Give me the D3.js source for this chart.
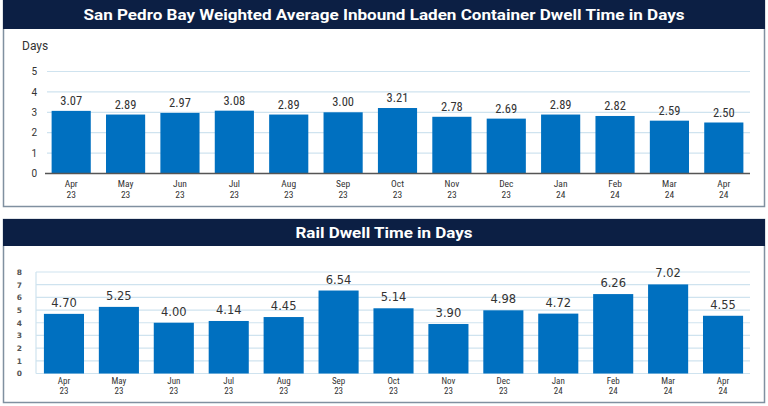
<!DOCTYPE html>
<html><head><meta charset="utf-8">
<script src="https://cdn.jsdelivr.net/npm/d3@7"></script>
<style>
html,body{margin:0;padding:0;background:#fff;}
svg{display:block;}
</style></head>
<body>
<svg id="c" width="768" height="406"></svg>
<script>
const months = ["Apr","May","Jun","Jul","Aug","Sep","Oct","Nov","Dec","Jan","Feb","Mar","Apr"];
const years  = ["23","23","23","23","23","23","23","23","23","24","24","24","24"];
const containerDwell = [3.07,2.89,2.97,3.08,2.89,3.00,3.21,2.78,2.69,2.89,2.82,2.59,2.50];
const railDwell = [4.70,5.25,4.00,4.14,4.45,6.54,5.14,3.90,4.98,4.72,6.26,7.02,4.55];
const topTicks = [0,1,2,3,4,5];
const bottomTicks = [0,1,2,3,4,5,6,7,8];
const title1 = "San Pedro Bay Weighted Average Inbound Laden Container Dwell Time in Days";
const title2 = "Rail Dwell Time in Days";

const NAVY = "#0c1f44", BAR = "#0070c0", GRID = "#cfe3ef", TXT = "#333";
const NARROW = "'Liberation Sans Narrow', 'Roboto Condensed', 'Arial Narrow', Roboto, sans-serif";
const svg = d3.select("#c");
const keys = months.map((m,i)=>i);

function panel(y0, y1, hb, title, tlen){
  svg.append("rect").attr("x",3.5).attr("y",y0+0.5).attr("width",761).attr("height",y1-y0)
    .attr("fill","#fff").attr("stroke","#8090a0").attr("stroke-width",1.5);
  svg.append("rect").attr("x",3).attr("y",y0).attr("width",762).attr("height",hb-y0).attr("fill",NAVY);
  svg.append("text").attr("x",384).attr("y",(y0+hb)/2+5.5).attr("text-anchor","middle")
    .attr("fill","#fff").attr("font-family","Roboto, Arial, sans-serif").attr("font-weight","bold")
    .attr("font-size",15.5).attr("textLength",tlen).attr("lengthAdjust","spacingAndGlyphs").text(title);
}

function twoLineTicks(xg, fontSize, y1, y2){
  xg.selectAll(".tick text").each(function(d){
    const t = d3.select(this).attr("y",null).attr("dy",null)
      .attr("font-family",NARROW).attr("font-size",fontSize).attr("fill",TXT);
    t.append("tspan").attr("x",0).attr("y",y1).text(months[d]);
    t.append("tspan").attr("x",0).attr("y",y2).text(years[d]);
  });
}

// ---------- Top panel ----------
panel(0, 206, 29, title1, 601);
{
  const x = d3.scaleBand().domain(keys).range([44,751]).paddingInner(0.28).paddingOuter(0.14);
  const y = d3.scaleLinear().domain([0,5]).range([173.5,71.5]);
  const g = svg.append("g");
  g.append("text").attr("x",22).attr("y",50).attr("font-family","Roboto, Arial, sans-serif")
    .attr("font-size",12).attr("fill",TXT).text("Days");
  const ya = d3.axisLeft(y).tickValues(topTicks).tickSize(0).tickPadding(8).tickFormat(d3.format("d"));
  const yg = g.append("g").attr("transform","translate(45,0)").call(ya);
  yg.select(".domain").remove();
  yg.selectAll("text").attr("font-family","Roboto, Arial, sans-serif").attr("font-size",10).attr("fill",TXT);
  g.selectAll(".gl").data(topTicks.filter(d=>d>0)).enter().append("line")
    .attr("x1",47).attr("x2",750).attr("y1",d=>y(d)).attr("y2",d=>y(d))
    .attr("stroke",GRID).attr("stroke-width",1.2);
  g.selectAll(".b").data(containerDwell).enter().append("rect")
    .attr("x",(d,i)=>x(i)).attr("width",x.bandwidth()).attr("y",d=>y(d)).attr("height",d=>y(0)-y(d)).attr("fill",BAR);
  g.append("line").attr("x1",45).attr("x2",750).attr("y1",y(0)).attr("y2",y(0)).attr("stroke","#555").attr("stroke-width",1.5);
  g.selectAll(".v").data(containerDwell).enter().append("text")
    .attr("x",(d,i)=>x(i)+x.bandwidth()/2).attr("y",d=>y(d)-6).attr("text-anchor","middle")
    .attr("font-family",NARROW).attr("font-size",12.5).attr("fill",TXT).text(d=>d.toFixed(2));
  const xg = g.append("g").attr("transform",`translate(0,${y(0)})`).call(d3.axisBottom(x).tickSize(0).tickFormat(()=>""));
  xg.select(".domain").remove();
  twoLineTicks(xg, 9.5, 13.8, 24.5);
}

// ---------- Bottom panel ----------
panel(219, 402, 246, title2, 177);
{
  const x = d3.scaleBand().domain(keys).range([36.5,750.5]).paddingInner(0.27).paddingOuter(0.135);
  const y = d3.scaleLinear().domain([0,8]).range([373.5,272]);
  const g = svg.append("g");
  const ya = d3.axisLeft(y).tickValues(bottomTicks).tickSize(0).tickPadding(14).tickFormat(d3.format("d"));
  const yg = g.append("g").attr("transform","translate(36,0)").call(ya);
  yg.select(".domain").remove();
  yg.selectAll("text").attr("font-family","'DejaVu Sans', sans-serif").attr("font-size",7.5)
    .attr("font-weight","bold").attr("fill","#555");
  g.selectAll(".gl").data(bottomTicks).enter().append("line")
    .attr("x1",36).attr("x2",750).attr("y1",d=>y(d)).attr("y2",d=>y(d))
    .attr("stroke",GRID).attr("stroke-width",1.2);
  g.append("line").attr("x1",36).attr("x2",36).attr("y1",y(8)).attr("y2",y(0)).attr("stroke",GRID).attr("stroke-width",1.2);
  g.selectAll(".b").data(railDwell).enter().append("rect")
    .attr("x",(d,i)=>x(i)).attr("width",x.bandwidth()).attr("y",d=>y(d)).attr("height",d=>y(0)-y(d)).attr("fill",BAR);
  g.selectAll(".v").data(railDwell).enter().append("text")
    .attr("x",(d,i)=>x(i)+x.bandwidth()/2).attr("y",d=>y(d)-7).attr("text-anchor","middle")
    .attr("font-family","'DejaVu Sans', Arial, sans-serif").attr("font-size",11.5).attr("fill",TXT).text(d=>d.toFixed(2));
  const xg = g.append("g").attr("transform",`translate(0,${y(0)})`).call(d3.axisBottom(x).tickSize(0).tickFormat(()=>""));
  xg.select(".domain").remove();
  twoLineTicks(xg, 9, 10.2, 20.8);
}
</script>
</body></html>
